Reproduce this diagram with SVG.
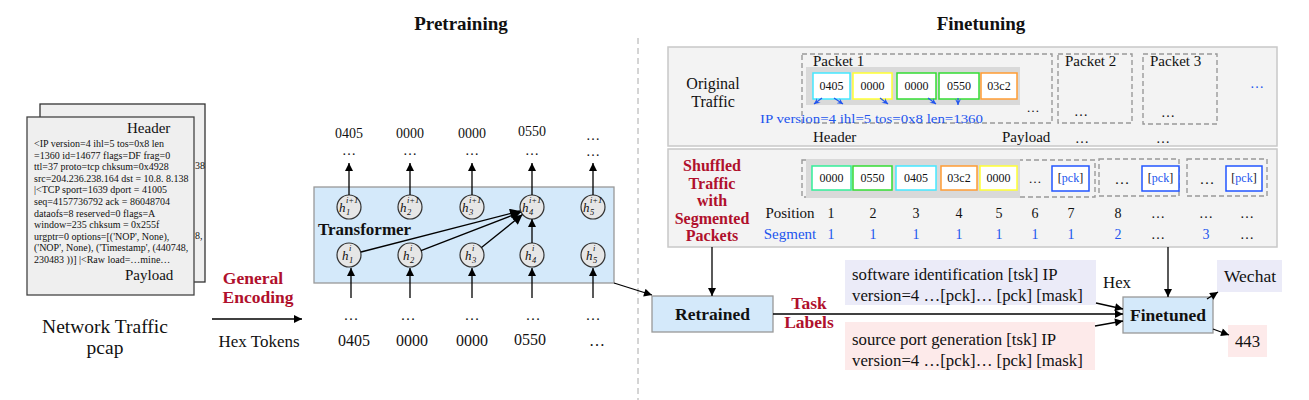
<svg xmlns="http://www.w3.org/2000/svg" width="1309" height="400" viewBox="0 0 1309 400" xml:space="preserve" font-family="Liberation Serif, Times New Roman, serif">
<defs>
<marker id="ah" viewBox="0 0 10 10" refX="10" refY="5" markerWidth="9" markerHeight="8" markerUnits="userSpaceOnUse" orient="auto"><path d="M0,0 L10,5 L0,10 z" fill="#000"/></marker>
<marker id="ahL" viewBox="0 0 10 10" refX="10" refY="5" markerWidth="13" markerHeight="10" markerUnits="userSpaceOnUse" orient="auto"><path d="M0,0 L10,5 L0,10 z" fill="#000"/></marker>
<marker id="ahB" viewBox="0 0 10 10" refX="10" refY="5" markerWidth="7" markerHeight="6" markerUnits="userSpaceOnUse" orient="auto"><path d="M0,0 L10,5 L0,10 L4,5 z" fill="#2255ee"/></marker>
</defs>
<style>
text{font-family:"Liberation Serif","Times New Roman",serif;fill:#111}
.t{font-size:19px;font-weight:bold}
.red{fill:#b0102c;font-weight:bold;font-size:17.5px}
.bl{fill:#2255ee}
.b{font-weight:bold}
.pk{font-size:10px}
.tok{font-size:12px}
.dash{fill:none;stroke:#999;stroke-width:1.4;stroke-dasharray:5 3}
.strip{fill:#d9d9d9}
.tb{fill:#fff;stroke-width:1.5}
.circ{fill:#e6e6e6;stroke:#333;stroke-width:1.2}
.h{font-style:italic;font-size:13px}
.s{font-style:italic;font-size:8.5px}
.ln{stroke:#000;stroke-width:1.3;fill:none}
.blue-box{fill:#d4e9fa;stroke:#999;stroke-width:1.3}
</style>

<text class="t" x="461" y="30" text-anchor="middle">Pretraining</text>
<text class="t" x="981" y="30" text-anchor="middle">Finetuning</text>
<line x1="638" y1="38" x2="638" y2="400" stroke="#aaa" stroke-width="1" stroke-dasharray="6 4"/>

<g id="pcap">
<rect x="40" y="104" width="165" height="178" fill="#efefef" stroke="#333" stroke-width="1.3"/>
<text class="pk" x="195" y="169">38</text>
<text class="pk" x="195" y="239">8,</text>
<rect x="27" y="117" width="167" height="178" fill="#efefef" stroke="#444" stroke-width="1.3"/>
<text x="127" y="133" font-size="15">Header</text>
<text class="pk" x="34" y="147">&lt;IP  version=4 ihl=5 tos=0x8 len</text>
<text class="pk" x="34" y="158.6">=1360 id=14677 flags=DF frag=0</text>
<text class="pk" x="34" y="170.2">ttl=37 proto=tcp chksum=0x4928</text>
<text class="pk" x="34" y="181.8">src=204.236.238.164 dst = 10.8. 8.138</text>
<text class="pk" x="34" y="193.4">|&lt;TCP  sport=1639 dport = 41005</text>
<text class="pk" x="34" y="205">seq=4157736792 ack = 86048704</text>
<text class="pk" x="34" y="216.6">dataofs=8 reserved=0 flags=A</text>
<text class="pk" x="34" y="228.2">window=235 chksum = 0x255f</text>
<text class="pk" x="34" y="239.8">urgptr=0 options=[('NOP', None),</text>
<text class="pk" x="34" y="251.4">('NOP', None), ('Timestamp', (440748,</text>
<text class="pk" x="34" y="263">230483 ))] |&lt;Raw load=…mine…</text>
<text x="125" y="280" font-size="15">Payload</text>
</g>
<g id="network-traffic">
<text x="105" y="333" font-size="19.5" text-anchor="middle">Network Traffic</text>
<text x="105" y="354" font-size="19.5" text-anchor="middle">pcap</text>
</g>
<g id="general-encoding">
<text class="red" x="253" y="284" text-anchor="middle">General</text>
<text class="red" x="258" y="303" text-anchor="middle">Encoding</text>
<text x="259" y="347" font-size="17" text-anchor="middle">Hex Tokens</text>
</g>

<g id="transformer">
<rect x="314" y="187" width="300" height="96" class="blue-box"/>
<text x="318" y="235" font-size="17" class="b">Transformer</text>
<circle class="circ" cx="349" cy="207" r="12"/><circle class="circ" cx="410" cy="207" r="12"/><circle class="circ" cx="472" cy="207" r="12"/><circle class="circ" cx="532" cy="207" r="12"/><circle class="circ" cx="593" cy="207" r="12"/>
<circle class="circ" cx="349" cy="255" r="12"/><circle class="circ" cx="410" cy="255" r="12"/><circle class="circ" cx="472" cy="255" r="12"/><circle class="circ" cx="532" cy="255" r="12"/><circle class="circ" cx="593" cy="255" r="12"/>
<text class="h" x="339" y="212">h</text><text class="s" x="346" y="203">i+1</text><text class="s" x="346" y="215">1</text>
<text class="h" x="400" y="212">h</text><text class="s" x="407" y="203">i+1</text><text class="s" x="407" y="215">2</text>
<text class="h" x="462" y="212">h</text><text class="s" x="469" y="203">i+1</text><text class="s" x="469" y="215">3</text>
<text class="h" x="522" y="212">h</text><text class="s" x="529" y="203">i+1</text><text class="s" x="529" y="215">4</text>
<text class="h" x="583" y="212">h</text><text class="s" x="590" y="203">i+1</text><text class="s" x="590" y="215">5</text>
<text class="h" x="342" y="260">h</text><text class="s" x="349" y="251">i</text><text class="s" x="349" y="263">1</text>
<text class="h" x="403" y="260">h</text><text class="s" x="410" y="251">i</text><text class="s" x="410" y="263">2</text>
<text class="h" x="465" y="260">h</text><text class="s" x="472" y="251">i</text><text class="s" x="472" y="263">3</text>
<text class="h" x="525" y="260">h</text><text class="s" x="532" y="251">i</text><text class="s" x="532" y="263">4</text>
<text class="h" x="586" y="260">h</text><text class="s" x="593" y="251">i</text><text class="s" x="593" y="263">5</text>
</g>

<g id="output-tokens">
<text x="349" y="138" text-anchor="middle" font-size="14">0405</text>
<text x="410" y="138" text-anchor="middle" font-size="14">0000</text>
<text x="472" y="138" text-anchor="middle" font-size="14">0000</text>
<text x="532" y="136" text-anchor="middle" font-size="14">0550</text>
<text x="593" y="140" text-anchor="middle" font-size="14">…</text>
<text x="349" y="155" text-anchor="middle" font-size="14">…</text>
<text x="410" y="155" text-anchor="middle" font-size="14">…</text>
<text x="472" y="155" text-anchor="middle" font-size="14">…</text>
<text x="532" y="155" text-anchor="middle" font-size="14">…</text>
<text x="593" y="156" text-anchor="middle" font-size="14">…</text>
</g>
<g id="input-tokens">
<text x="351" y="320" text-anchor="middle" font-size="15">…</text>
<text x="408" y="320" text-anchor="middle" font-size="15">…</text>
<text x="472" y="320" text-anchor="middle" font-size="15">…</text>
<text x="533" y="320" text-anchor="middle" font-size="15">…</text>
<text x="593" y="320" text-anchor="middle" font-size="15">…</text>
<text x="354" y="346" text-anchor="middle" font-size="16">0405</text>
<text x="412" y="346" text-anchor="middle" font-size="16">0000</text>
<text x="472" y="346" text-anchor="middle" font-size="16">0000</text>
<text x="530" y="345" text-anchor="middle" font-size="16">0550</text>
<text x="597" y="346" text-anchor="middle" font-size="16">…</text>
</g>

<g id="finetune-panel">
<rect x="668" y="47" width="609" height="99" fill="#f3f3f3" stroke="#c8c8c8" stroke-width="1.5"/>
<rect x="668" y="149" width="609" height="98" fill="#f3f3f3" stroke="#c8c8c8" stroke-width="1.5"/>
</g>

<g id="original-traffic">
<text x="713" y="89" font-size="16" text-anchor="middle">Original</text>
<text x="713" y="107" font-size="16" text-anchor="middle">Traffic</text>
<rect class="dash" x="802" y="54" width="250" height="69"/>
<text x="813" y="66" font-size="15">Packet 1</text>
<rect class="strip" x="806" y="67" width="214" height="38"/>
<rect class="tb" x="813" y="73" width="37" height="26" stroke="#44e8ff"/>
<rect class="tb" x="853" y="73" width="39" height="26" stroke="#ffff33"/>
<rect class="tb" x="897" y="73" width="39" height="26" stroke="#33dd33"/>
<rect class="tb" x="939" y="73" width="40" height="26" stroke="#33dd33"/>
<rect class="tb" x="981" y="73" width="36" height="26" stroke="#ff9c33"/>
<text class="tok" x="831.5" y="90" text-anchor="middle">0405</text>
<text class="tok" x="872.5" y="90" text-anchor="middle">0000</text>
<text class="tok" x="916.5" y="90" text-anchor="middle">0000</text>
<text class="tok" x="959" y="90" text-anchor="middle">0550</text>
<text class="tok" x="999" y="90" text-anchor="middle">03c2</text>
<text x="1033" y="112" font-size="13" text-anchor="middle">…</text>
<g stroke="#2255ee" stroke-width="1.2">
<line x1="822" y1="98" x2="814" y2="104" marker-end="url(#ahB)"/>
<line x1="834" y1="98" x2="843" y2="104" marker-end="url(#ahB)"/>
<line x1="880" y1="98" x2="888" y2="104" marker-end="url(#ahB)"/>
<line x1="928" y1="98" x2="936" y2="104" marker-end="url(#ahB)"/>
<line x1="958" y1="98" x2="958" y2="105" marker-end="url(#ahB)"/>
</g>
<text class="bl" x="760" y="123" font-size="13.5" textLength="223" lengthAdjust="spacingAndGlyphs">IP  version=4  ihl=5  tos=0x8  len=1360</text>
<text x="813" y="142" font-size="15">Header</text>
<text x="1002" y="142" font-size="15">Payload</text>
<rect class="dash" x="1058" y="54" width="74" height="69"/>
<text x="1065" y="66" font-size="15">Packet 2</text>
<text x="1081" y="116" font-size="14" text-anchor="middle">…</text>
<rect class="dash" x="1143" y="54" width="74" height="70"/>
<text x="1150" y="66" font-size="15">Packet 3</text>
<text x="1168" y="117" font-size="14" text-anchor="middle">…</text>
<text x="1082" y="143" font-size="14" text-anchor="middle">…</text>
<text x="1163" y="143" font-size="14" text-anchor="middle">…</text>
<text class="bl" x="1257" y="88" font-size="14" text-anchor="middle">…</text>
</g>

<g id="shuffled-traffic">
<text class="red" x="712" y="171" text-anchor="middle" style="font-size:16px">Shuffled</text>
<text class="red" x="712" y="189" text-anchor="middle" style="font-size:16px">Traffic</text>
<text class="red" x="712" y="206" text-anchor="middle" style="font-size:16px">with</text>
<text class="red" x="712" y="224" text-anchor="middle" style="font-size:16px">Segmented</text>
<text class="red" x="712" y="241" text-anchor="middle" style="font-size:16px">Packets</text>
<rect class="dash" x="802" y="160" width="293" height="37"/>
<rect class="strip" x="806" y="159" width="214" height="39"/>
<rect class="tb" x="812" y="166" width="39" height="24" stroke="#33ee99"/>
<rect class="tb" x="853" y="166" width="39" height="24" stroke="#33dd33"/>
<rect class="tb" x="896" y="166" width="40" height="24" stroke="#44e8ff"/>
<rect class="tb" x="941" y="166" width="36" height="24" stroke="#ff9c33"/>
<rect class="tb" x="980" y="166" width="37" height="24" stroke="#ffff33"/>
<text class="tok" x="831.5" y="182" text-anchor="middle">0000</text>
<text class="tok" x="872.5" y="182" text-anchor="middle">0550</text>
<text class="tok" x="916" y="182" text-anchor="middle">0405</text>
<text class="tok" x="959" y="182" text-anchor="middle">03c2</text>
<text class="tok" x="998.5" y="182" text-anchor="middle">0000</text>
<text x="1035" y="183" font-size="13" text-anchor="middle">…</text>
<rect class="tb" x="1052" y="166" width="37" height="25" stroke="#2255ff"/>
<text class="tok" x="1070.5" y="182" text-anchor="middle">[<tspan class="bl">pck</tspan>]</text>
<rect class="dash" x="1099" y="159" width="80" height="37"/>
<text x="1122" y="184" font-size="15" text-anchor="middle">…</text>
<rect class="tb" x="1142" y="166" width="37" height="25" stroke="#2255ff"/>
<text class="tok" x="1160.5" y="182" text-anchor="middle">[<tspan class="bl">pck</tspan>]</text>
<rect class="dash" x="1187" y="159" width="80" height="37"/>
<text x="1207" y="184" font-size="15" text-anchor="middle">…</text>
<rect class="tb" x="1226" y="166" width="36" height="25" stroke="#2255ff"/>
<text class="tok" x="1244" y="182" text-anchor="middle">[<tspan class="bl">pck</tspan>]</text>
<g font-size="14" text-anchor="middle">
<text x="790" y="218" font-size="15">Position</text>
<text x="831" y="218">1</text><text x="873" y="218">2</text><text x="916" y="218">3</text><text x="959" y="218">4</text><text x="999" y="218">5</text><text x="1035" y="218">6</text><text x="1071" y="218">7</text><text x="1118" y="218">8</text><text x="1158" y="218">…</text><text x="1206" y="218">…</text><text x="1247" y="218">…</text>
</g>
<g font-size="14" text-anchor="middle">
<text class="bl" x="790" y="239" font-size="15">Segment</text>
<text class="bl" x="831" y="239">1</text><text class="bl" x="873" y="239">1</text><text class="bl" x="916" y="239">1</text><text class="bl" x="959" y="239">1</text><text class="bl" x="999" y="239">1</text><text class="bl" x="1035" y="239">1</text><text class="bl" x="1071" y="239">1</text><text class="bl" x="1118" y="239">2</text><text x="1158" y="239">…</text><text class="bl" x="1206" y="239">3</text><text x="1247" y="239">…</text>
</g>
</g>

<g id="retrained">
<rect x="652" y="296" width="121" height="36" class="blue-box"/>
<text x="712.5" y="320" font-size="17.5" class="b" text-anchor="middle">Retrained</text>
</g>
<g id="task-labels">
<text class="red" x="809" y="309" text-anchor="middle">Task</text>
<text class="red" x="809" y="328" text-anchor="middle">Labels</text>
</g>
<g id="software-task">
<rect x="845" y="260" width="251" height="45" fill="#ebebf8"/>
<text x="852" y="280" font-size="16.8">software identification [tsk] IP</text>
<text x="852" y="301" font-size="16.8">version=4 …[pck]… [pck]  [mask]</text>
</g>
<g id="port-task">
<rect x="845" y="322" width="250" height="48" fill="#fdeaea"/>
<text x="852" y="345" font-size="16.8">source port generation [tsk] IP</text>
<text x="852" y="366" font-size="16.8">version=4 …[pck]… [pck] [mask]</text>
</g>
<text x="1117" y="288" font-size="16.8" text-anchor="middle">Hex</text>
<g id="finetuned">
<rect x="1123" y="297" width="90" height="36" class="blue-box"/>
<text x="1168" y="321" font-size="17.5" class="b" text-anchor="middle">Finetuned</text>
</g>
<g id="wechat">
<rect x="1217" y="260" width="65" height="32" fill="#ebebf8"/>
<text x="1250" y="282" font-size="17.5" text-anchor="middle">Wechat</text>
</g>
<g id="port-443">
<rect x="1228" y="325" width="39" height="32" fill="#fdeaea"/>
<text x="1247.5" y="347" font-size="16.8" text-anchor="middle">443</text>
</g>

<g id="connectors">
<line class="ln" x1="212" y1="319" x2="302" y2="319" marker-end="url(#ah)"/>
<line class="ln" x1="349" y1="195" x2="349" y2="163" marker-end="url(#ah)"/>
<line class="ln" x1="410" y1="195" x2="410" y2="163" marker-end="url(#ah)"/>
<line class="ln" x1="472" y1="195" x2="472" y2="163" marker-end="url(#ah)"/>
<line class="ln" x1="532" y1="195" x2="532" y2="163" marker-end="url(#ah)"/>
<line class="ln" x1="593" y1="195" x2="593" y2="163" marker-end="url(#ah)"/>
<line class="ln" x1="351" y1="298" x2="351" y2="268" marker-end="url(#ah)"/>
<line class="ln" x1="410" y1="298" x2="410" y2="268" marker-end="url(#ah)"/>
<line class="ln" x1="472" y1="298" x2="472" y2="268" marker-end="url(#ah)"/>
<line class="ln" x1="532" y1="298" x2="532" y2="268" marker-end="url(#ah)"/>
<line class="ln" x1="593" y1="298" x2="593" y2="268" marker-end="url(#ah)"/>
<line class="ln" x1="361" y1="252" x2="520" y2="211" marker-end="url(#ahL)"/>
<line class="ln" x1="421" y1="250.6" x2="521" y2="212" marker-end="url(#ahL)"/>
<line class="ln" x1="481.5" y1="247.5" x2="522.5" y2="214.5" marker-end="url(#ahL)"/>
<line class="ln" x1="532" y1="243" x2="532" y2="219" marker-end="url(#ah)"/>
<line class="ln" x1="614" y1="283" x2="652" y2="295" marker-end="url(#ah)"/>
<line class="ln" x1="712" y1="247" x2="712" y2="296" marker-end="url(#ah)"/>
<line class="ln" x1="773" y1="314" x2="1123" y2="314" marker-end="url(#ah)"/>
<line class="ln" x1="1096" y1="303" x2="1123" y2="309" marker-end="url(#ah)"/>
<line class="ln" x1="1095" y1="326" x2="1123" y2="321" marker-end="url(#ah)"/>
<line class="ln" x1="1168" y1="247" x2="1168" y2="297" marker-end="url(#ah)"/>
<line class="ln" x1="1207" y1="299" x2="1218" y2="292" marker-end="url(#ah)"/>
<line class="ln" x1="1213" y1="329" x2="1229" y2="335" marker-end="url(#ah)"/>
</g>
</svg>
